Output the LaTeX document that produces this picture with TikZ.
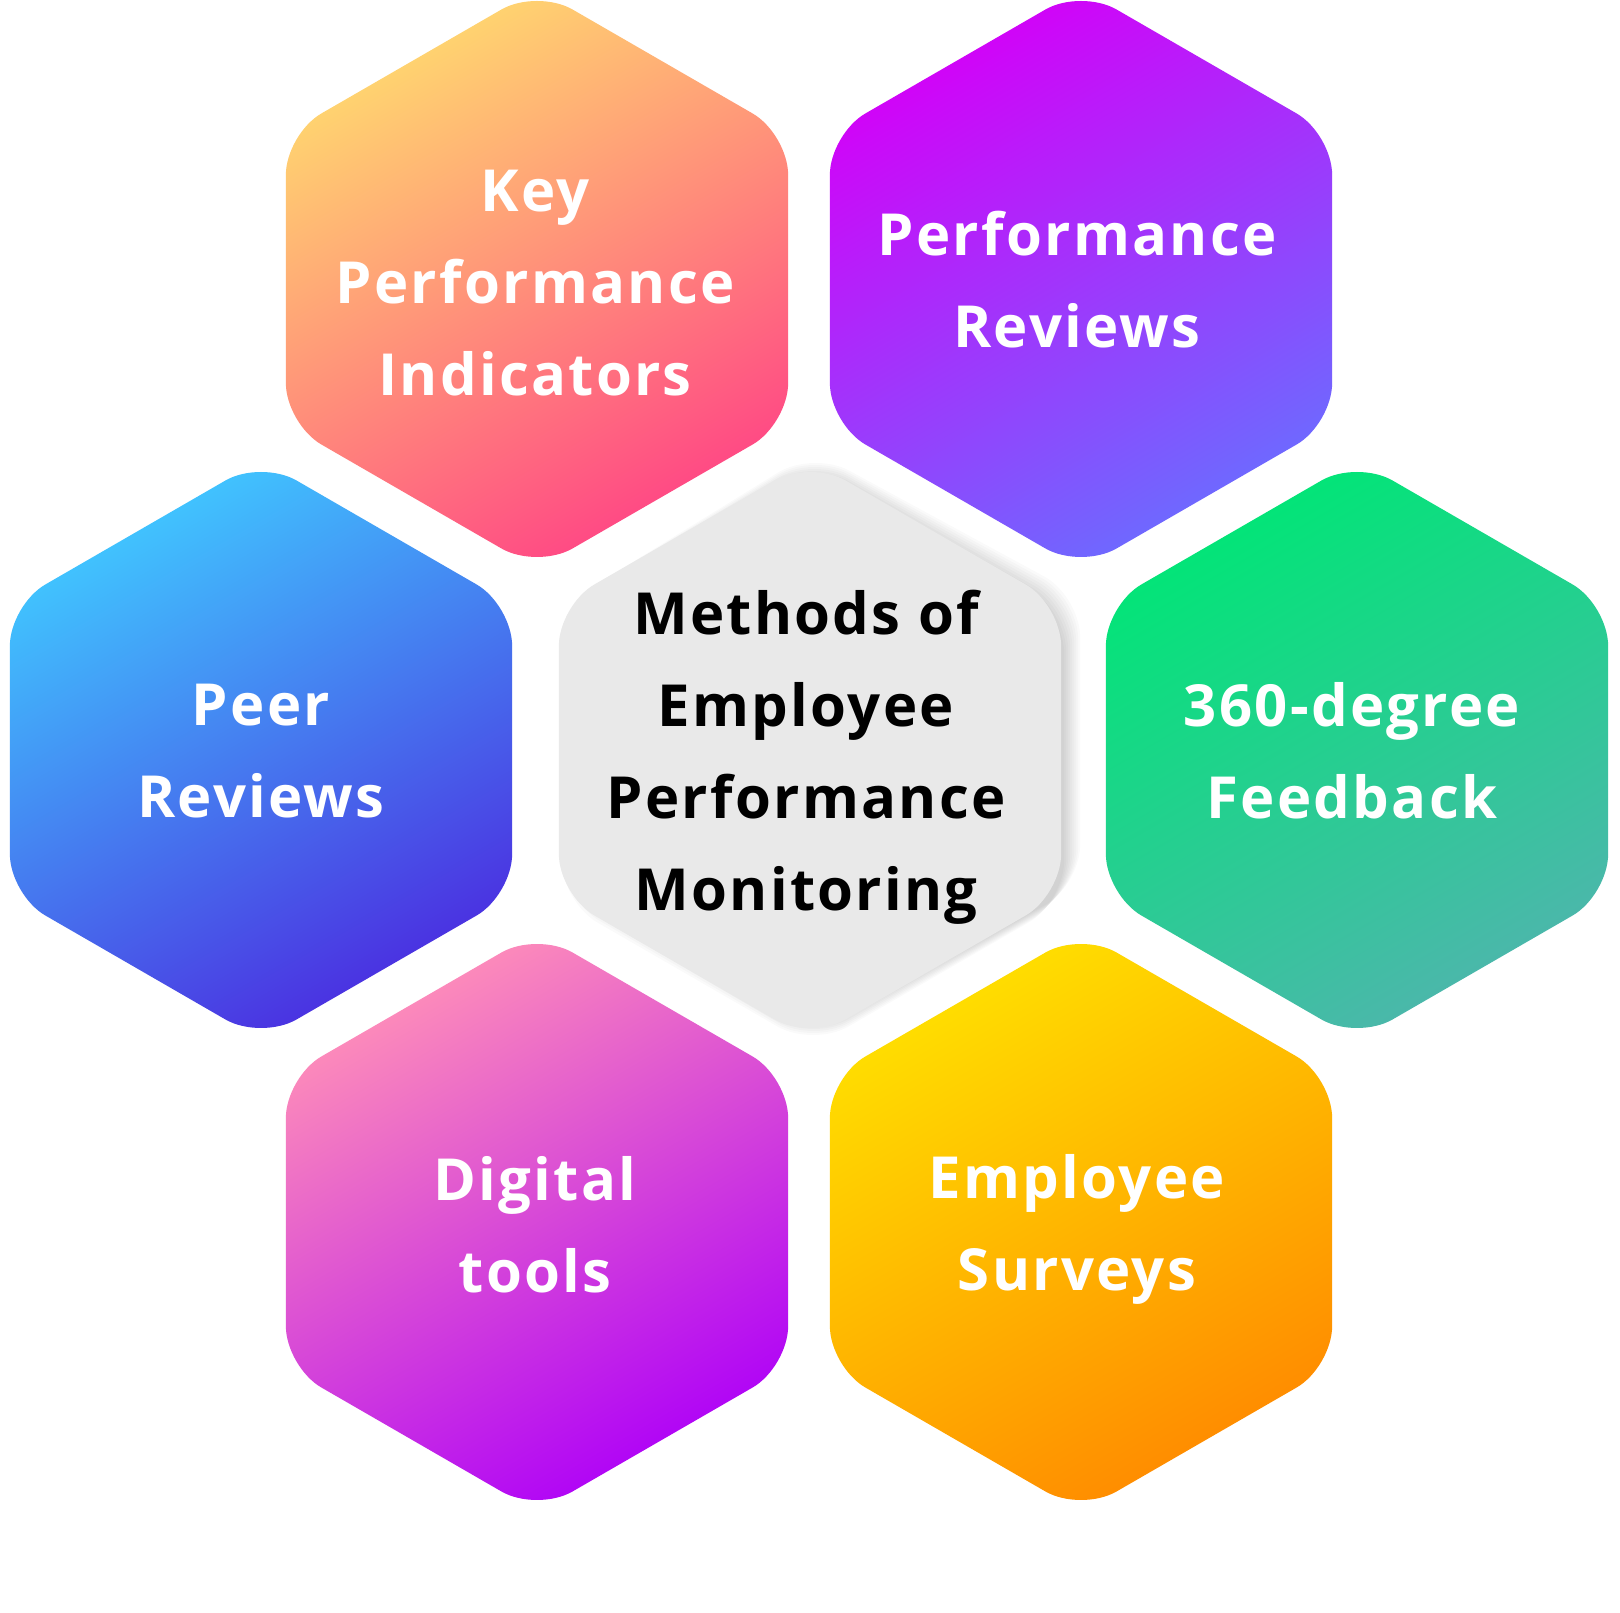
\documentclass[tikz,border=0pt]{standalone}
\usepackage{fontspec}
\newfontfamily\hexfont{Open Sans}[LetterSpace=4]
\definecolor{kpiA}{HTML}{FFD86F}
\definecolor{kpiB}{HTML}{FF4585}
\definecolor{prA}{HTML}{D400F8}
\definecolor{prB}{HTML}{6B6CFF}
\definecolor{peerA}{HTML}{40C8FF}
\definecolor{peerB}{HTML}{4B2DE0}
\definecolor{degA}{HTML}{00E676}
\definecolor{degB}{HTML}{4DB6AC}
\definecolor{digA}{HTML}{FF8FB8}
\definecolor{digB}{HTML}{AE00F8}
\definecolor{esA}{HTML}{FFE000}
\definecolor{esB}{HTML}{FF8A00}
\definecolor{centerfill}{HTML}{E9E9E9}
% #1 options, #2 cx, #3 cy, #4 R
\newcommand\hexat[4]{%
  \path[rounded corners=41pt,#1] ({#2-0.8660254*#4},#3) -- ({#2-0.8660254*#4},{#3+0.5*#4}) -- (#2,{#3+#4}) -- ({#2+0.8660254*#4},{#3+0.5*#4}) -- ({#2+0.8660254*#4},{#3-0.5*#4}) -- (#2,{#3-#4}) -- ({#2-0.8660254*#4},{#3-0.5*#4}) -- cycle;}
\tikzset{
  hexlabel/.style={align=center, text=white, font=\hexfont\bfseries\fontsize{58}{92}\selectfont, inner sep=0pt},
  centerlabel/.style={hexlabel, text=black},
  grad/.style 2 args={top color=#1, bottom color=#2, shading angle=30}
}
\begin{document}
\begin{tikzpicture}[x=1pt,y=1pt]
\useasboundingbox (0,0) rectangle (1620,1612);
\fill[white] (0,0) rectangle (1620,1612);
% outer hexagons
\hexat{grad={kpiA}{kpiB}}{537}{1333}{290}
\hexat{grad={prA}{prB}}{1081}{1333}{290}
\hexat{grad={peerA}{peerB}}{261}{862}{290}
\hexat{grad={degA}{degB}}{1357}{862}{290}
\hexat{grad={digA}{digB}}{537}{390}{290}
\hexat{grad={esA}{esB}}{1081}{390}{290}
% shadow of the centre hexagon
\foreach \e in {0,2,...,16}{
  \hexat{fill=black, opacity=0.018}{813}{855}{290+\e}
}
\hexat{fill=centerfill}{810}{862}{290}
% labels
\node[hexlabel] (kpi) at (535,1329) {Key\\Performance\\Indicators};
\node[hexlabel] (pr) at (1077,1332) {Performance\\Reviews};
\node[hexlabel] (peer) at (261,861) {Peer\\Reviews};
\node[centerlabel] (center) at (806,855) {Methods of\\Employee\\Performance\\Monitoring};
\node[hexlabel] (deg) at (1352,861) {360-degree\\Feedback};
\node[hexlabel] (dig) at (535,387) {Digital\\tools};
\node[hexlabel] (es) at (1077,383) {Employee\\Surveys};
\end{tikzpicture}
\end{document}
